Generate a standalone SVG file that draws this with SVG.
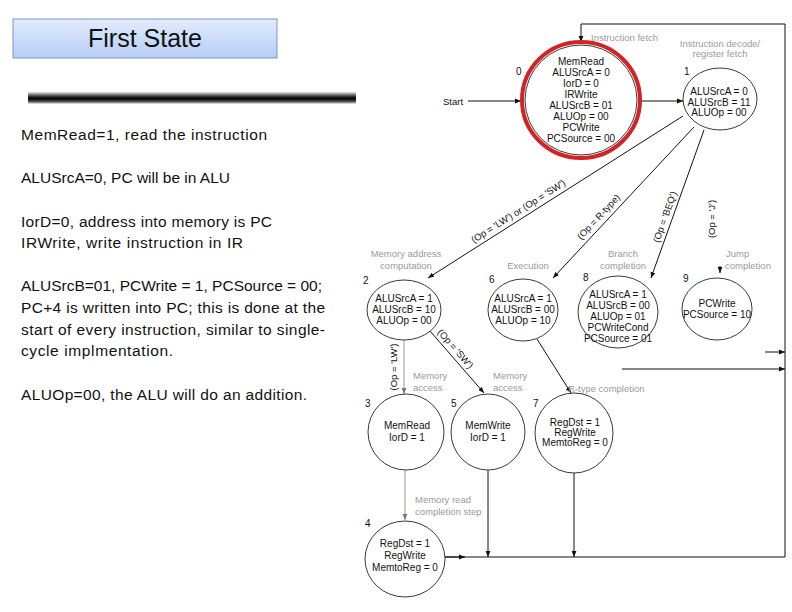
<svg xmlns="http://www.w3.org/2000/svg" width="792" height="612" viewBox="0 0 792 612">
<defs>
<linearGradient id="boxg" x1="0" y1="0" x2="0" y2="1"><stop offset="0" stop-color="#e2ecfd"/><stop offset="1" stop-color="#b6cdf7"/></linearGradient>
<linearGradient id="barg" x1="0" y1="0" x2="0" y2="1"><stop offset="0" stop-color="#e8e8e8"/><stop offset="0.35" stop-color="#3a3a3a"/><stop offset="0.55" stop-color="#000"/><stop offset="0.8" stop-color="#555"/><stop offset="1" stop-color="#f0f0f0"/></linearGradient>
<marker id="ah" viewBox="0 0 10 10" refX="10" refY="5" markerWidth="6" markerHeight="6" markerUnits="userSpaceOnUse" orient="auto"><path d="M0,1 L10,5 L0,9 z" fill="#111"/></marker>
<marker id="ahg" viewBox="0 0 10 10" refX="10" refY="5" markerWidth="6" markerHeight="6" markerUnits="userSpaceOnUse" orient="auto"><path d="M0,1 L10,5 L0,9 z" fill="#777"/></marker>
</defs>
<style>
.body{font-family:"Liberation Sans",Arial,sans-serif;font-size:15.5px;fill:#111}
.st{font-family:"Liberation Sans",Arial,sans-serif;font-size:10px;fill:#111;text-anchor:middle}
.num{font-family:"Liberation Sans",Arial,sans-serif;font-size:10px;fill:#111}
.lab{font-family:"Liberation Sans",Arial,sans-serif;font-size:9.5px;fill:#9a9a9a}
.cond{font-family:"Liberation Sans",Arial,sans-serif;font-size:9.5px;fill:#111;text-anchor:middle}
.circ{fill:#fff;stroke:#222;stroke-width:0.9}
.ln{fill:none;stroke:#111;stroke-width:1}
.lng{fill:none;stroke:#999;stroke-width:1}
</style>
<rect width="792" height="612" fill="#fff"/>

<g id="title">
<rect x="13" y="19" width="264" height="39" fill="url(#boxg)" stroke="#7d95c7" stroke-width="1"/>
<text x="145" y="47" font-family="Liberation Sans, Arial, sans-serif" font-size="25" text-anchor="middle" fill="#111">First State</text>
</g>
<rect id="bar" x="28" y="92" width="328" height="12" fill="url(#barg)"/>

<g id="notes" class="body">
<text x="21" y="140" textLength="246" lengthAdjust="spacing">MemRead=1, read the instruction</text>
<text x="21" y="183" textLength="209" lengthAdjust="spacing">ALUSrcA=0, PC will be in ALU</text>
<text x="21" y="227" textLength="251" lengthAdjust="spacing">IorD=0, address into memory is PC</text>
<text x="21" y="248" textLength="222" lengthAdjust="spacing">IRWrite, write instruction in IR</text>
<text x="21" y="291" textLength="301" lengthAdjust="spacing">ALUSrcB=01, PCWrite = 1, PCSource = 00;</text>
<text x="21" y="313" textLength="304" lengthAdjust="spacing">PC+4 is written into PC; this is done at the</text>
<text x="21" y="335" textLength="304" lengthAdjust="spacing">start of every instruction, similar to single-</text>
<text x="21" y="356" textLength="152" lengthAdjust="spacing">cycle implmentation.</text>
<text x="21" y="400" textLength="286" lengthAdjust="spacing">ALUOp=00, the ALU will do an addition.</text>
</g>

<g id="connectors">
<line class="ln" x1="468" y1="101" x2="521" y2="101" marker-end="url(#ah)"/>
<line class="ln" x1="641" y1="101" x2="683" y2="101" marker-end="url(#ah)"/>
<polyline class="ln" points="785,557 785,24 581,24 581,42" marker-end="url(#ah)"/>
<line class="ln" x1="683" y1="116" x2="428" y2="278" marker-end="url(#ah)"/>
<line class="ln" x1="694" y1="127" x2="553" y2="278" marker-end="url(#ah)"/>
<line class="ln" x1="704" y1="130" x2="651" y2="278" marker-end="url(#ah)"/>
<line class="ln" x1="720" y1="266" x2="720" y2="273" marker-end="url(#ah)"/>
<line class="lng" x1="404" y1="340" x2="404" y2="394" marker-end="url(#ahg)"/>
<line class="ln" x1="430" y1="331" x2="484" y2="393" marker-end="url(#ah)"/>
<line class="ln" x1="537" y1="339" x2="571" y2="393" marker-end="url(#ah)"/>
<line class="lng" x1="405" y1="470" x2="405" y2="520" marker-end="url(#ahg)"/>
<line class="ln" x1="488" y1="470" x2="488" y2="557" marker-end="url(#ah)"/>
<line class="ln" x1="574" y1="473" x2="574" y2="557" marker-end="url(#ah)"/>
<line class="ln" x1="445" y1="557" x2="785" y2="557"/>
<line class="ln" x1="445" y1="557" x2="465" y2="557" marker-end="url(#ah)"/>
<line class="ln" x1="765" y1="352" x2="785" y2="352" marker-end="url(#ah)"/>
<line class="ln" x1="622" y1="369" x2="785" y2="369" marker-end="url(#ah)"/>
<text class="cond" x="520" y="214" transform="rotate(-32.4 520 214)">(Op = 'LW') or (Op = 'SW')</text>
<text class="cond" x="601" y="219" transform="rotate(-47 601 219)">(Op = R-type)</text>
<text class="cond" x="668" y="218" transform="rotate(-70.3 668 218)">(Op = 'BEQ')</text>
<text class="cond" x="715" y="219" transform="rotate(-90 715 219)">(Op = 'J')</text>
<text class="cond" x="397" y="367" transform="rotate(-90 397 367)">(Op = 'LW')</text>
<text class="cond" x="453" y="351" transform="rotate(49 453 351)">(Op = 'SW')</text>
</g>

<g id="labels" class="lab">
<text x="591" y="41">Instruction fetch</text>
<text x="720" y="47" text-anchor="middle">Instruction decode/</text>
<text x="720" y="57" text-anchor="middle">register fetch</text>
<text x="406" y="257" text-anchor="middle">Memory address</text>
<text x="406" y="269" text-anchor="middle">computation</text>
<text x="528" y="269" text-anchor="middle">Execution</text>
<text x="623" y="257" text-anchor="middle">Branch</text>
<text x="623" y="269" text-anchor="middle">completion</text>
<text x="726" y="257">Jump</text>
<text x="725" y="269">completion</text>
<text x="413" y="379">Memory</text>
<text x="413" y="391">access</text>
<text x="493" y="379">Memory</text>
<text x="493" y="391">access</text>
<text x="568" y="392">R-type completion</text>
<text x="415" y="503">Memory read</text>
<text x="415" y="515">completion step</text>
<text x="443" y="105" fill="#111">Start</text>
</g>

<g id="state0">
<ellipse class="circ" cx="581" cy="100" rx="56" ry="55"/>
<ellipse cx="581" cy="100" rx="59" ry="58" fill="none" stroke="#d42327" stroke-width="4"/>
<text class="num" x="516" y="75">0</text>
<text class="st" x="581" y="65">MemRead</text>
<text class="st" x="581" y="76">ALUSrcA = 0</text>
<text class="st" x="581" y="87">IorD = 0</text>
<text class="st" x="581" y="98">IRWrite</text>
<text class="st" x="581" y="109">ALUSrcB = 01</text>
<text class="st" x="581" y="120">ALUOp = 00</text>
<text class="st" x="581" y="131">PCWrite</text>
<text class="st" x="581" y="142">PCSource = 00</text>
</g>
<g id="state1">
<ellipse class="circ" cx="720" cy="99" rx="37" ry="31"/>
<text class="num" x="684" y="75">1</text>
<text class="st" x="719" y="95">ALUSrcA = 0</text>
<text class="st" x="719" y="106">ALUSrcB = 11</text>
<text class="st" x="719" y="116">ALUOp = 00</text>
</g>
<g id="state2">
<ellipse class="circ" cx="404" cy="310" rx="37" ry="30"/>
<text class="num" x="363" y="284">2</text>
<text class="st" x="404" y="302">ALUSrcA = 1</text>
<text class="st" x="404" y="313">ALUSrcB = 10</text>
<text class="st" x="404" y="324">ALUOp = 00</text>
</g>
<g id="state6">
<ellipse class="circ" cx="523" cy="310" rx="35" ry="31"/>
<text class="num" x="489" y="283">6</text>
<text class="st" x="523" y="302">ALUSrcA = 1</text>
<text class="st" x="523" y="313">ALUSrcB = 00</text>
<text class="st" x="523" y="324">ALUOp = 10</text>
</g>
<g id="state8">
<ellipse class="circ" cx="618" cy="312" rx="40" ry="36"/>
<text class="num" x="583" y="281">8</text>
<text class="st" x="618" y="298">ALUSrcA = 1</text>
<text class="st" x="618" y="309">ALUSrcB = 00</text>
<text class="st" x="618" y="320">ALUOp = 01</text>
<text class="st" x="618" y="331">PCWriteCond</text>
<text class="st" x="618" y="342">PCSource = 01</text>
</g>
<g id="state9">
<ellipse class="circ" cx="717" cy="309" rx="35" ry="31"/>
<text class="num" x="683" y="282">9</text>
<text class="st" x="717" y="307">PCWrite</text>
<text class="st" x="717" y="318">PCSource = 10</text>
</g>
<g id="state3">
<ellipse class="circ" cx="406" cy="432" rx="38" ry="38"/>
<text class="num" x="365" y="407">3</text>
<text class="st" x="407" y="429">MemRead</text>
<text class="st" x="407" y="441">IorD = 1</text>
</g>
<g id="state5">
<ellipse class="circ" cx="488" cy="432" rx="37" ry="38"/>
<text class="num" x="451" y="407">5</text>
<text class="st" x="488" y="429">MemWrite</text>
<text class="st" x="488" y="441">IorD = 1</text>
</g>
<g id="state7">
<ellipse class="circ" cx="574" cy="433" rx="39" ry="40"/>
<text class="num" x="533" y="407">7</text>
<text class="st" x="575" y="426">RegDst = 1</text>
<text class="st" x="575" y="436">RegWrite</text>
<text class="st" x="575" y="446">MemtoReg = 0</text>
</g>
<g id="state4">
<ellipse class="circ" cx="405" cy="559" rx="40" ry="38"/>
<text class="num" x="365" y="527">4</text>
<text class="st" x="405" y="547">RegDst = 1</text>
<text class="st" x="405" y="559">RegWrite</text>
<text class="st" x="405" y="571">MemtoReg = 0</text>
</g>
</svg>
